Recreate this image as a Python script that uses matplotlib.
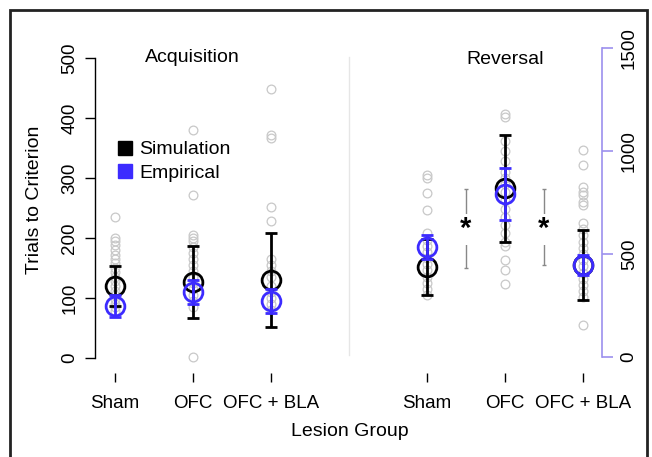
import numpy as np
import matplotlib
matplotlib.use("Agg")
import matplotlib.pyplot as plt
from matplotlib.lines import Line2D
from matplotlib.patches import Rectangle

plt.rcParams['font.family'] = ['Liberation Sans', 'DejaVu Sans']
plt.rcParams['font.size'] = 13

groups = ["Sham", "OFC", "OFC + BLA"]

# acquisition (left axis, trials)
acq_sim_mean = [120, 127, 130]
acq_sim_err = [33, 60, 78]
acq_emp_mean = [87, 110, 95]
acq_emp_err = [18, 20, 20]
acq_points = [
    [235, 200, 195, 188, 180, 172, 165, 158, 150, 143, 135, 128, 120, 112, 105, 98, 90, 85, 78],
    [380, 272, 205, 200, 195, 185, 175, 165, 155, 145, 135, 125, 115, 105, 95, 85, 2],
    [448, 372, 366, 252, 228, 165, 155, 145, 135, 120, 110, 100, 90, 80],
]

# reversal (right axis, trials)
rev_sim_mean = [437, 820, 447]
rev_sim_err = [136, 260, 170]
rev_emp_mean = [534, 791, 447]
rev_emp_err = [60, 127, 48]
rev_points = [
    [885, 870, 796, 713, 600, 570, 540, 510, 480, 450, 420, 390, 360, 330, 300],
    [1180, 1165, 1050, 1000, 950, 900, 870, 840, 800, 760, 720, 680, 640, 600, 560,
     539, 471, 422, 354],
    [1005, 932, 825, 800, 786, 752, 738, 650, 620, 590, 560, 530, 500, 470, 440,
     410, 380, 350, 320, 290, 155],
]

# significance brackets in reversal: (x, low, high)
sig_x = [4.5, 5.5]
sig_low = [432, 447]
sig_high = [816, 816]
sig_star = 621

acq_x = [0, 1, 2]
rev_x = [4, 5, 6]

BLUE = '#3c2bff'
LAV = '#9c90ee'
GRAY = '#c8c8c8'

fig = plt.figure(figsize=(6.52, 4.57), dpi=100)
W, H = 652, 457
ax = fig.add_axes([95 / W, (H - 371) / H, 507 / W, 326 / H])
ax2 = ax.twinx()

ax.set_xlim(-20 / 78, 487 / 78)
ax.set_ylim((358 - 371) / 0.6, (358 - 45) / 0.6)
ax2.set_ylim((357 - 371) / 0.206, (357 - 45) / 0.206)


def draw_group(a, xs, pts, sm, se, em, ee):
    for x, p in zip(xs, pts):
        a.plot([x] * len(p), p, 'o', ms=6.3, mfc='none', mec=GRAY, mew=0.9, zorder=2)
    a.errorbar(xs, sm, yerr=se, fmt='o', ms=13.5, mfc='none', mec='black', mew=2,
               ecolor='black', elinewidth=2, capsize=4, capthick=2, zorder=3)
    a.errorbar(xs, em, yerr=ee, fmt='o', ms=13.5, mfc='none', mec=BLUE, mew=2,
               ecolor=BLUE, elinewidth=2, capsize=4, capthick=2, zorder=4)


draw_group(ax, acq_x, acq_points, acq_sim_mean, acq_sim_err, acq_emp_mean, acq_emp_err)
draw_group(ax2, rev_x, rev_points, rev_sim_mean, rev_sim_err, rev_emp_mean, rev_emp_err)

# divider between panels
ax.plot([3, 3], [5, 502], color='#e6e6e6', lw=1, zorder=1)

# significance brackets
for x, lo, hi in zip(sig_x, sig_low, sig_high):
    ax2.errorbar([x], [(lo + hi) / 2], yerr=[[(hi - lo) / 2], [(hi - lo) / 2]], fmt='none',
                 ecolor='#888888', elinewidth=1, capsize=1.5, capthick=1, zorder=2)
    ax2.text(x, sig_star, '*', ha='center', va='center', fontsize=21, fontweight='bold',
             zorder=5, bbox=dict(boxstyle='square,pad=0.05', fc='white', ec='none'))

# spines
for a in (ax, ax2):
    a.spines['top'].set_visible(False)
    a.spines['bottom'].set_visible(False)
ax.spines['right'].set_visible(False)
ax2.spines['left'].set_visible(False)
ax.spines['left'].set_bounds(0, 500)
ax2.spines['right'].set_bounds(0, 1500)
ax2.spines['right'].set_color(LAV)
ax.spines['left'].set_linewidth(1)
ax2.spines['right'].set_linewidth(1.2)
ax.spines['bottom'].set_position(('outward', 1.5))

ax.set_yticks([0, 100, 200, 300, 400, 500])
ax2.set_yticks([0, 500, 1000, 1500])
ax.tick_params(axis='y', length=7, width=1, pad=5, labelsize=13.5)
ax2.tick_params(axis='y', length=8, width=1.2, color=LAV, pad=5.5, labelsize=13.5)
for lab in ax.get_yticklabels():
    lab.set_rotation(90)
    lab.set_va('center')
for lab in ax2.get_yticklabels():
    lab.set_rotation(90)
    lab.set_va('center')

ax.set_xticks(acq_x + rev_x)
ax.set_xticklabels(groups + groups)
ax.tick_params(axis='x', length=6.5, width=1, pad=9, labelsize=13.5)

# titles
ax.text(192 / W, (H - 57) / H, 'Acquisition', transform=fig.transFigure, ha='center',
        va='center', fontsize=14)
ax.text(505 / W, (H - 59) / H, 'Reversal', transform=fig.transFigure, ha='center',
        va='center', fontsize=14)

fig.text(35 / W, (H - 200) / H, 'Trials to Criterion', rotation=90, ha='center',
         va='center', fontsize=14)
fig.text(350 / W, (H - 432) / H, 'Lesion Group', ha='center', va='center', fontsize=14)

handles = [Line2D([], [], marker='s', ls='none', color='black', ms=9.5),
           Line2D([], [], marker='s', ls='none', color=BLUE, ms=9.5)]
fig.legend(handles, ['Simulation', 'Empirical'], loc='upper left',
           bbox_to_anchor=(108 / W, (H - 131) / H), frameon=False, fontsize=14,
           handlelength=0.8, handletextpad=0.3, labelspacing=0.3, borderpad=0)

fig.patches.append(Rectangle((10 / W, -0.05), 637 / W, (H - 10) / H + 0.05,
                             transform=fig.transFigure, fill=False, ec='#222222',
                             lw=2, clip_on=False))

fig.savefig('out.png', dpi=100)
